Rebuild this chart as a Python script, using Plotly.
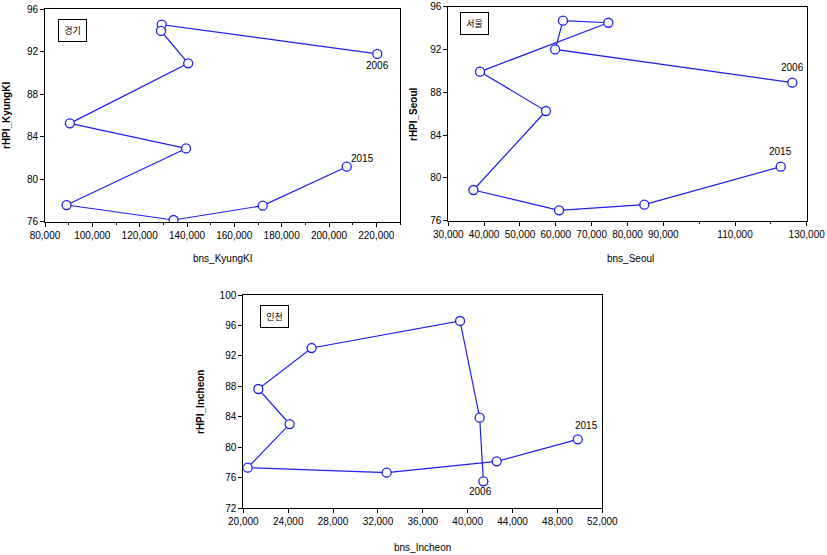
import plotly.graph_objects as go

# ---- data (2006 .. 2015) ----
years = ["2006", "2007", "2008", "2009", "2010", "2011", "2012", "2013", "2014", "2015"]

bns_kyungki = [220400, 129300, 129000, 140500, 90500, 139600, 89100, 134300, 172000, 207500]
rhpi_kyungki = [91.8, 94.56, 93.96, 90.91, 85.26, 82.9, 77.57, 76.16, 77.51, 81.18]

bns_seoul = [126000, 59800, 62000, 74650, 38850, 57250, 37000, 60900, 84700, 122750]
rhpi_seoul = [88.9, 92.01, 94.69, 94.5, 89.93, 86.25, 78.87, 76.97, 77.5, 81.05]

bns_incheon = [41400, 41070, 39320, 26090, 21340, 24130, 20390, 32780, 42590, 49810]
rhpi_incheon = [75.54, 83.89, 96.59, 93.04, 87.66, 83.06, 77.33, 76.67, 78.16, 81.05]

panels = [
    dict(name="경기", x=bns_kyungki, y=rhpi_kyungki, xt="bns_KyungKI", yt="rHPI_KyungKI",
         xr=[80000, 230000], xtv=list(range(80000, 220001, 20000)), xminor=list(range(90000, 230001, 20000)),
         yr=[76, 96], ytv=[76, 80, 84, 88, 92, 96]),
    dict(name="서울", x=bns_seoul, y=rhpi_seoul, xt="bns_Seoul", yt="rHPI_Seoul",
         xr=[30000, 130000], xtv=[30000, 40000, 50000, 60000, 70000, 80000, 90000, 110000, 130000],
         xminor=[100000, 120000],
         yr=[76, 96], ytv=[76, 80, 84, 88, 92, 96]),
    dict(name="인천", x=bns_incheon, y=rhpi_incheon, xt="bns_Incheon", yt="rHPI_Incheon",
         xr=[20000, 52000], xtv=list(range(20000, 52001, 4000)), xminor=[],
         yr=[72, 100], ytv=[72, 76, 80, 84, 88, 92, 96, 100]),
]

W, H = 827, 555
# plot area pixel boxes (left, right, top, bottom)
boxes = [(45, 400, 9.3, 221.7), (448.3, 806.7, 6.7, 220.7), (243.3, 602.3, 295, 508.3)]
label_boxes = [(72, 31), (474.5, 23.5), (274, 316)]
xtitle_pos = [(223, 258), (630, 258), (423, 547)]
ytitle_pos = [(7, 116), (413, 114), (200, 402)]
# year label offsets (xshift, yshift) for 2006 and 2015
year_shifts = [((0, -12), (16, 8)), ((0, 15), (0, 15)), ((-3, -10), (9, 14))]

FONT = "Liberation Sans, Arial, sans-serif"
BLUE = "#1f1fef"

fig = go.Figure()
layout = dict(width=W, height=H, margin=dict(l=0, r=0, t=0, b=0),
              paper_bgcolor="white", plot_bgcolor="white", showlegend=False,
              font=dict(family=FONT, size=10, color="black"))
annotations = []

for i, p in enumerate(panels):
    n = "" if i == 0 else str(i + 1)
    L, R, T, B = boxes[i]
    fig.add_trace(go.Scatter(
        x=p["x"], y=p["y"], mode="lines+markers", xaxis="x" + n, yaxis="y" + n,
        line=dict(color=BLUE, width=1.2),
        marker=dict(symbol="circle", size=9, color="white", line=dict(color=BLUE, width=1.3)),
    ))
    layout["xaxis" + n] = dict(
        domain=[L / W, R / W], anchor="y" + n, range=p["xr"], tickvals=p["xtv"],
        tickformat=",d", ticks="outside", ticklen=4, tickcolor="black",
        showline=True, linecolor="black", linewidth=1, mirror=True, automargin=False,
        showgrid=False, zeroline=False, tickfont=dict(size=10),
        minor=dict(tickvals=p["xminor"], ticks="outside", ticklen=2, tickcolor="black", showgrid=False),
    )
    layout["yaxis" + n] = dict(
        domain=[1 - B / H, 1 - T / H], anchor="x" + n, range=p["yr"], tickvals=p["ytv"],
        ticks="outside", ticklen=4, tickcolor="black",
        showline=True, linecolor="black", linewidth=1, mirror=True, automargin=False,
        showgrid=False, zeroline=False, tickfont=dict(size=10),
    )
    # axis titles
    tx, ty = xtitle_pos[i]
    annotations.append(dict(x=tx / W, y=1 - ty / H, xref="paper", yref="paper", text=p["xt"],
                            showarrow=False, xanchor="center", yanchor="middle",
                            font=dict(size=10, color="black")))
    tx, ty = ytitle_pos[i]
    annotations.append(dict(x=tx / W, y=1 - ty / H, xref="paper", yref="paper",
                            text="<b>" + p["yt"] + "</b>", textangle=-90,
                            showarrow=False, xanchor="center", yanchor="middle",
                            font=dict(size=10, color="black")))
    # region label box
    cx, cy = label_boxes[i]
    annotations.append(dict(
        x=cx / W, y=1 - cy / H, xref="paper", yref="paper", text=p["name"], showarrow=False,
        font=dict(family="Noto Sans CJK KR", size=9, color="black"),
        bordercolor="black", borderwidth=1, borderpad=0, width=27, height=21,
        bgcolor="white", xanchor="center", yanchor="middle",
    ))
    # first / last year labels
    for k, idx in enumerate([0, len(years) - 1]):
        dx, dy = year_shifts[i][k]
        annotations.append(dict(
            x=p["x"][idx], y=p["y"][idx], xref="x" + n, yref="y" + n, text=years[idx],
            showarrow=False, xshift=dx, yshift=dy, font=dict(size=10, color="black"),
        ))

layout["annotations"] = annotations
fig.update_layout(**layout)
fig.write_html("out.html", config={"displayModeBar": False},
               post_script="document.body.style.margin='0';document.body.style.overflow='hidden';")
